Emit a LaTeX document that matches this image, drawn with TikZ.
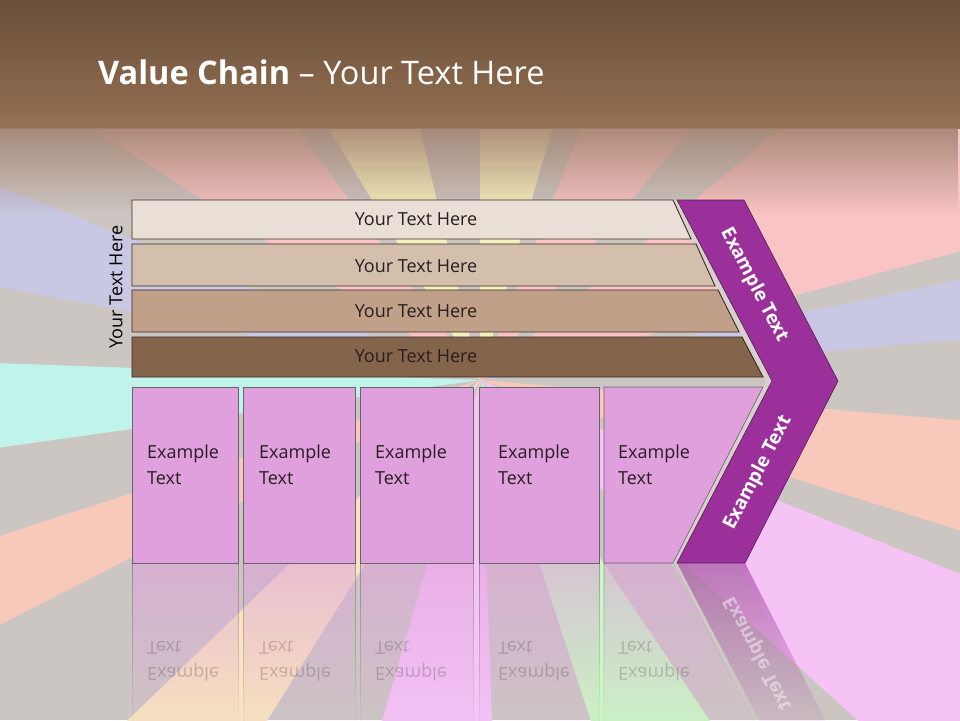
\documentclass[tikz,border=0pt]{standalone}
\usepackage{fontspec}
\setmainfont{Open Sans}
\usetikzlibrary{fadings}
\tikzfading[name=hdrfade, top color=transparent!15, bottom color=transparent!100]
\tikzfading[name=reflfade, top color=transparent!45, bottom color=transparent!100]
\definecolor{bggray}{RGB}{204,198,195}
\definecolor{rpink}{RGB}{248,196,196}
\definecolor{ryellow}{RGB}{246,240,192}
\definecolor{rlav}{RGB}{200,200,228}
\definecolor{rcyan}{RGB}{192,244,234}
\definecolor{rsalmon}{RGB}{248,200,186}
\definecolor{rpeach}{RGB}{248,228,190}
\definecolor{rmag}{RGB}{245,196,245}
\definecolor{rgreen}{RGB}{202,245,196}
\definecolor{hdrtop}{RGB}{104,79,57}
\definecolor{hdrbot}{RGB}{150,112,82}
\definecolor{hdrfadec}{RGB}{160,128,108}
\definecolor{barA}{RGB}{233,223,214}
\definecolor{barB}{RGB}{212,190,172}
\definecolor{barC}{RGB}{192,160,136}
\definecolor{barD}{RGB}{132,100,74}
\definecolor{barline}{RGB}{58,42,34}
\definecolor{boxpink}{RGB}{224,160,222}
\definecolor{chev}{RGB}{155,48,155}
\definecolor{chevline}{RGB}{90,26,90}
\definecolor{shad}{RGB}{216,208,204}
\definecolor{txtdark}{RGB}{40,30,30}
\tikzset{
  barshape/.style={draw=barline, line width=0.9pt},
  boxshape/.style={draw=gray!80!black, line width=0.6pt, fill=boxpink},
  bartext/.style={font=\fontsize{18}{22}\selectfont, text=txtdark, inner sep=0pt},
  boxtext/.style={font=\fontsize{18}{26}\selectfont, text=txtdark, inner sep=0pt, anchor=west, align=left},
  chevtext/.style={font=\fontsize{19}{23}\selectfont\bfseries, text=white, inner sep=0pt},
  refl/.style={path fading=reflfade},
}
\begin{document}
\begin{tikzpicture}[x=1pt,y=-1pt]
\useasboundingbox (0,0) rectangle (960,720);
% background with rays
\begin{scope}
  \clip (0,0) rectangle (960,720);
  \fill[bggray] (0,0) rectangle (960,720);
  \foreach \a/\b/\c in {4.8/11.8/rlav, 15/40/rpink, 50/68/rpink, 74/90/ryellow,
      103.5/121/ryellow, 126/147/rpink, 158/169/rlav, 178/188/rcyan,
      198/207/rsalmon, 224/238/rpeach, 254/272/rmag, 288/304/rgreen,
      318/338/rmag, 342.6/355.2/rsalmon}
    \fill[\c] (480,380) -- +(-\a:1500) -- +(-\b:1500) -- cycle;
  % header
  \shade[top color=hdrtop, bottom color=hdrbot] (0,0) rectangle (960,128);
  \fill[hdrfadec, path fading=hdrfade] (0,128) rectangle (960,215);
\end{scope}
\node[anchor=base west, text=white, font=\fontsize{32.5}{38}\selectfont, inner sep=0pt] (title) at (98,84) {\textbf{Value Chain} – Your Text Here};

% reflections
\foreach \l/\r in {132/238, 243/355, 360/473, 479/599}
  \path[boxshape, refl] (\l,563) rectangle (\r,739);
\path[boxshape, refl] (604,563) -- (673,563) -- (763,739) -- (604,739) -- cycle;
\path[fill=shad, refl] (671,563) -- (739,563) -- (832,745) -- (766,745) -- cycle;
\path[fill=chev, refl] (677,563) -- (745,563) -- (838,745) -- (772,745) -- cycle;
\begin{scope}[shift={(0,1126)}, yscale=-1]
  \node[boxtext, transform shape, opacity=0.22] (re1) at (147,465) {Example\\Text};
  \node[boxtext, transform shape, opacity=0.22] (re2) at (259,465) {Example\\Text};
  \node[boxtext, transform shape, opacity=0.22] (re3) at (375,465) {Example\\Text};
  \node[boxtext, transform shape, opacity=0.22] (re4) at (498,465) {Example\\Text};
  \node[boxtext, transform shape, opacity=0.22] (re5) at (618,465) {Example\\Text};
  \node[chevtext, transform shape, rotate=62.5, opacity=0.45] (rct) at (758,473) {Example Text};
\end{scope}

% chevron shadow and chevron
\fill[shad] (671,200) -- (738,200) -- (832,381) -- (739,563) -- (671,563) -- (766,381) -- cycle;
\draw[fill=chev, draw=chevline, line width=0.6pt] (677,200) -- (744,200) -- (838,381) -- (745,563) -- (677,563) -- (772,381) -- cycle;

% bars
\draw[barshape, fill=barA] (132,200) -- (673,200) -- (691,239) -- (132,239) -- cycle;
\draw[barshape, fill=barB] (132,244) -- (696,244) -- (715,286) -- (132,286) -- cycle;
\draw[barshape, fill=barC] (132,290) -- (718,290) -- (739,332) -- (132,332) -- cycle;
\draw[barshape, fill=barD] (132,337) -- (742,337) -- (763,377) -- (132,377) -- cycle;
\node[bartext] (t1) at (416,219) {Your Text Here};
\node[bartext] (t2) at (416,266) {Your Text Here};
\node[bartext] (t3) at (416,311) {Your Text Here};
\node[bartext] (t4) at (416,356) {Your Text Here};
\node[bartext, text=black, rotate=90] (side) at (116,287) {Your Text Here};

% pink boxes
\draw[boxshape] (132,387) rectangle (238,563);
\draw[boxshape] (243,387) rectangle (355,563);
\draw[boxshape] (360,387) rectangle (473,563);
\draw[boxshape] (479,387) rectangle (599,563);
\draw[boxshape] (604,387) -- (763,387) -- (673,563) -- (604,563) -- cycle;
\node[boxtext] (e1) at (147,465) {Example\\Text};
\node[boxtext] (e2) at (259,465) {Example\\Text};
\node[boxtext] (e3) at (375,465) {Example\\Text};
\node[boxtext] (e4) at (498,465) {Example\\Text};
\node[boxtext] (e5) at (618,465) {Example\\Text};

% chevron texts
\node[chevtext, rotate=-62.5] (ct1) at (754,285) {Example Text};
\node[chevtext, rotate=62.5] (ct2) at (758,473) {Example Text};
\end{tikzpicture}
\end{document}
